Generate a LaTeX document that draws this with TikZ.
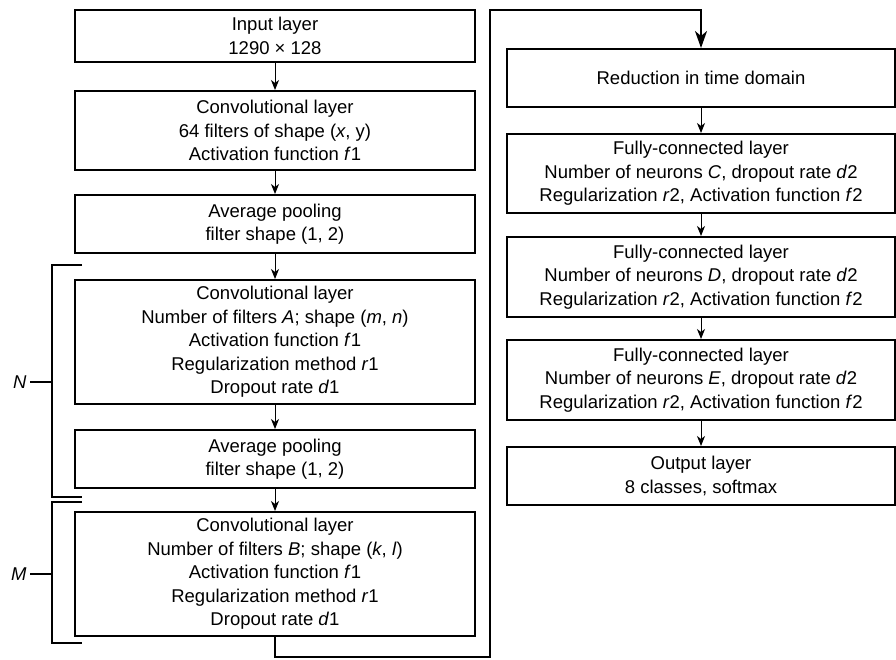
\documentclass[tikz,border=0pt]{standalone}
\usepackage{fontspec}
\setmainfont{Liberation Sans}
\usetikzlibrary{arrows.meta}

\tikzset{
  layer/.style={draw,line width=2pt,align=center,inner sep=0pt,
    font=\fontsize{18.5}{23.5}\selectfont},
  leftlayer/.style={layer,minimum width=400pt},
  rightlayer/.style={layer,minimum width=388pt},
  flow/.style={line width=1pt,-{Stealth[length=10pt,width=8pt,inset=3pt]}},
  bigflow/.style={line width=2pt,-{Stealth[length=17pt,width=12pt,inset=5pt]}},
  bracket/.style={line width=2pt}
}

\begin{document}
\begin{tikzpicture}[x=1pt,y=-1pt]
  \useasboundingbox (0,0) rectangle (896,659);

  % left column
  \node[leftlayer,minimum height=52pt] (in) at (275,36)
    {Input layer\\1290 × 128};
  \node[leftlayer,minimum height=79pt] (convA) at (275,130.5)
    {Convolutional layer\\64 filters of shape (\textit{x}, y)\\Activation function \textit{f}1};
  \node[leftlayer,minimum height=58pt] (poolA) at (275,224)
    {Average pooling\\filter shape (1, 2)};
  \node[leftlayer,minimum height=124pt] (convB) at (275,342)
    {Convolutional layer\\Number of filters \textit{A}; shape (\textit{m}, \textit{n})\\Activation function \textit{f}1\\Regularization method \textit{r}1\\Dropout rate \textit{d}1};
  \node[leftlayer,minimum height=58pt] (poolB) at (275,459)
    {Average pooling\\filter shape (1, 2)};
  \node[leftlayer,minimum height=124pt] (convC) at (275,574)
    {Convolutional layer\\Number of filters \textit{B}; shape (\textit{k}, \textit{l})\\Activation function \textit{f}1\\Regularization method \textit{r}1\\Dropout rate \textit{d}1};

  % right column
  \node[rightlayer,minimum height=58pt] (red) at (701,78)
    {Reduction in time domain};
  \node[rightlayer,minimum height=79pt] (fcC) at (701,173.5)
    {Fully-connected layer\\Number of neurons \textit{C}, dropout rate \textit{d}2\\Regularization \textit{r}2, Activation function \textit{f}2};
  \node[rightlayer,minimum height=80pt] (fcD) at (701,277)
    {Fully-connected layer\\Number of neurons \textit{D}, dropout rate \textit{d}2\\Regularization \textit{r}2, Activation function \textit{f}2};
  \node[rightlayer,minimum height=80pt] (fcE) at (701,380)
    {Fully-connected layer\\Number of neurons \textit{E}, dropout rate \textit{d}2\\Regularization \textit{r}2, Activation function \textit{f}2};
  \node[rightlayer,minimum height=58pt] (out) at (701,476)
    {Output layer\\8 classes, softmax};

  \foreach \a/\b in {in/convA,convA/poolA,poolA/convB,convB/poolB,poolB/convC,
                     red/fcC,fcC/fcD,fcD/fcE,fcE/out}
    \draw[flow] (\a) -- (\b);

  % link between the columns
  \coordinate (low) at (490,657);
  \coordinate (high) at (490,10);
  \draw[bigflow] (convC.south) |- (low) -- (high) -| (red.north);

  % repeat brackets
  \node[font=\fontsize{18.5}{20}\selectfont\itshape,anchor=east] (N) at (30,382) {N};
  \node[font=\fontsize{18.5}{20}\selectfont\itshape,anchor=east] (M) at (30,574) {M};
  \draw[bracket] (82,265) -- (52,265) -- (52,497) -- (82,497);
  \draw[bracket] (82,502) -- (52,502) -- (52,643) -- (82,643);
  \draw[bracket] (N.east) -- (N.east -| 52,0);
  \draw[bracket] (M.east) -- (M.east -| 52,0);
\end{tikzpicture}
\end{document}
